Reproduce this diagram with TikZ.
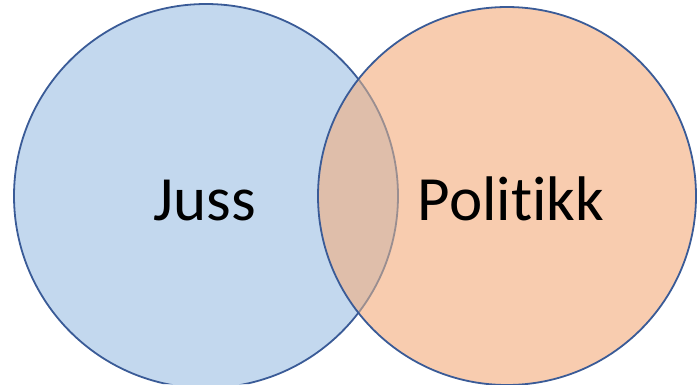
\documentclass[tikz,border=0pt]{standalone}
\usepackage{fontspec}
\setmainfont{Carlito}[Ligatures={NoCommon,NoRare,NoContextual}]
\definecolor{lblue}{HTML}{C3D8EE}
\definecolor{lorange}{HTML}{F8CCAF}
\definecolor{overlapc}{HTML}{DFBEAA}
\definecolor{edgec}{HTML}{3A5B97}
\definecolor{inneredge}{HTML}{9A8E90}
\begin{document}
\begin{tikzpicture}[x=1pt,y=-1pt,
  label/.style={font=\fontsize{63}{70}\selectfont, text=black, inner sep=0pt, anchor=base},
  rim/.style={draw=edgec, line width=1.8pt}]
\useasboundingbox (0,0) rectangle (700,384);
\fill[white] (0,0) rectangle (700,384);
\coordinate (cl) at (206,196);
\coordinate (cr) at (507,196);
% fills
\fill[lblue] (cl) circle[radius=192];
\fill[lorange] (cr) circle[radius=189];
\begin{scope}
  \clip (cl) circle[radius=192];
  \fill[overlapc] (cr) circle[radius=189];
\end{scope}
% outlines
\begin{scope}
  \clip (0,0) rectangle (700,384);
  \begin{scope}[even odd rule]
    \clip (0,0) rectangle (700,384) (cr) circle[radius=189];
    \draw[rim] (cl) circle[radius=192];
  \end{scope}
  \begin{scope}
    \clip (cr) circle[radius=189];
    \draw[draw=inneredge, line width=1.8pt] (cl) circle[radius=192];
  \end{scope}
  \draw[rim] (cr) circle[radius=189];
\end{scope}
\node[label] (juss) at (205,220) {Juss};
\node[label] (politikk) at (511,220) {Politikk};
\end{tikzpicture}
\end{document}
